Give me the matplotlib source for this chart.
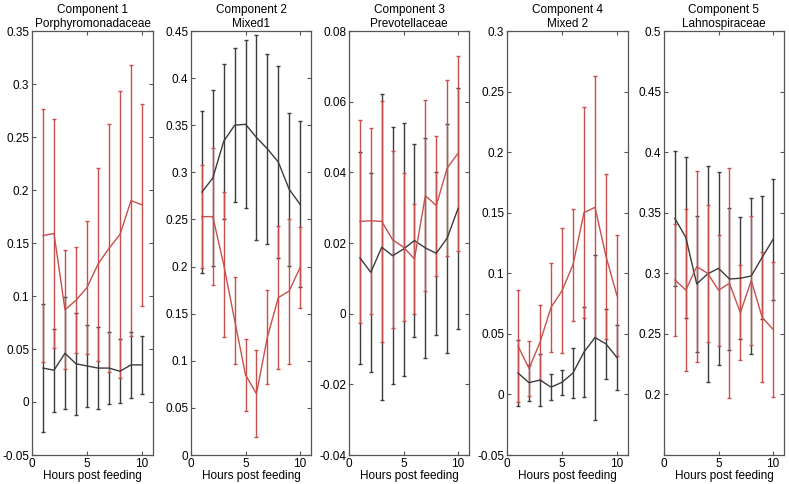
import matplotlib
matplotlib.use("Agg")
import matplotlib.pyplot as plt
import numpy as np

plt.rcParams["font.family"] = ["Liberation Sans", "DejaVu Sans"]

hours = [1, 2, 3, 4, 5, 6, 7, 8, 9, 10]

titles = [
    "Component 1\nPorphyromonadaceae",
    "Component 2\nMixed1",
    "Component 3\nPrevotellaceae",
    "Component 4\nMixed 2",
    "Component 5\nLahnospiraceae",
]

# black series (mean, symmetric error)
black_mean = [
    [0.032, 0.030, 0.046, 0.036, 0.034, 0.032, 0.032, 0.029, 0.035, 0.035],
    [0.279, 0.294, 0.333, 0.350, 0.351, 0.337, 0.325, 0.311, 0.282, 0.266],
    [0.0158, 0.0117, 0.0188, 0.0164, 0.0183, 0.0207, 0.0186, 0.0171, 0.0214, 0.0298],
    [0.0177, 0.0097, 0.0119, 0.006, 0.010, 0.0177, 0.035, 0.047, 0.0417, 0.0304],
    [0.3453, 0.3296, 0.2912, 0.2995, 0.3041, 0.2953, 0.2959, 0.2978, 0.3132, 0.328],
]
black_err = [
    [0.060, 0.039, 0.053, 0.048, 0.039, 0.039, 0.034, 0.030, 0.031, 0.027],
    [0.086, 0.093, 0.082, 0.082, 0.089, 0.109, 0.101, 0.102, 0.081, 0.088],
    [0.030, 0.0282, 0.0433, 0.0364, 0.0358, 0.0272, 0.0311, 0.0231, 0.0324, 0.0341],
    [0.027, 0.015, 0.0215, 0.011, 0.0105, 0.021, 0.037, 0.068, 0.029, 0.027],
    [0.056, 0.0665, 0.056, 0.089, 0.0795, 0.0585, 0.0505, 0.0643, 0.0506, 0.0497],
]

# red series (mean, symmetric error)
red_mean = [
    [0.157, 0.159, 0.087, 0.096, 0.108, 0.130, 0.145, 0.158, 0.190, 0.186],
    [0.253, 0.253, 0.202, 0.143, 0.085, 0.065, 0.125, 0.167, 0.174, 0.199],
    [0.0261, 0.0263, 0.0261, 0.0209, 0.0188, 0.0155, 0.0334, 0.0306, 0.0412, 0.0454],
    [0.040, 0.0215, 0.043, 0.0718, 0.0856, 0.107, 0.150, 0.1545, 0.114, 0.0815],
    [0.2945, 0.2862, 0.3055, 0.300, 0.286, 0.2917, 0.2675, 0.294, 0.2636, 0.2537],
]
red_err = [
    [0.119, 0.108, 0.056, 0.050, 0.063, 0.091, 0.117, 0.135, 0.128, 0.095],
    [0.055, 0.073, 0.077, 0.046, 0.038, 0.046, 0.050, 0.076, 0.077, 0.043],
    [0.0286, 0.0263, 0.034, 0.025, 0.021, 0.0155, 0.027, 0.0198, 0.025, 0.0276],
    [0.046, 0.023, 0.031, 0.037, 0.0515, 0.046, 0.087, 0.108, 0.068, 0.050],
    [0.046, 0.067, 0.079, 0.0565, 0.046, 0.095, 0.039, 0.0535, 0.0536, 0.0557],
]

ylims = [(-0.05, 0.35), (0.0, 0.45), (-0.04, 0.08), (-0.05, 0.30), (0.15, 0.50)]
yticks = [
    [-0.05, 0, 0.05, 0.1, 0.15, 0.2, 0.25, 0.3, 0.35],
    [0, 0.05, 0.1, 0.15, 0.2, 0.25, 0.3, 0.35, 0.4, 0.45],
    [-0.04, -0.02, 0, 0.02, 0.04, 0.06, 0.08],
    [-0.05, 0, 0.05, 0.1, 0.15, 0.2, 0.25, 0.3],
    [0.2, 0.25, 0.3, 0.35, 0.4, 0.45, 0.5],
]
ytick_labels = [
    ["-0.05", "0", "0.05", "0.1", "0.15", "0.2", "0.25", "0.3", "0.35"],
    ["0", "0.05", "0.1", "0.15", "0.2", "0.25", "0.3", "0.35", "0.4", "0.45"],
    ["-0.04", "-0.02", "0", "0.02", "0.04", "0.06", "0.08"],
    ["-0.05", "0", "0.05", "0.1", "0.15", "0.2", "0.25", "0.3"],
    ["0.2", "0.25", "0.3", "0.35", "0.4", "0.45", "0.5"],
]

BLACK = "#3c3c3c"
RED = "#c8504c"
W, H = 789, 484
# panel left/right edges in pixels
lefts = [32, 191, 349, 507, 664]
rights = [153, 311, 469, 628, 784]
top_px, bot_px = 31, 455

fig = plt.figure(figsize=(W / 100, H / 100), dpi=100)

for i in range(5):
    ax = fig.add_axes([lefts[i] / W, 1 - bot_px / H,
                       (rights[i] - lefts[i]) / W, (bot_px - top_px) / H])
    ax.errorbar(hours, black_mean[i], yerr=black_err[i], color=BLACK,
                lw=1.0, elinewidth=1.0, capsize=1.5, capthick=1.0)
    ax.errorbar(hours, red_mean[i], yerr=red_err[i], color=RED,
                lw=1.0, elinewidth=1.0, capsize=1.5, capthick=1.0)
    ax.set_xlim(0, 11)
    ax.set_ylim(*ylims[i])
    ax.set_xticks([0, 5, 10])
    ax.set_yticks(yticks[i])
    ax.set_yticklabels(ytick_labels[i])
    ax.tick_params(direction="in", top=True, right=True, length=3,
                   width=0.8, color="#555555", labelsize=8.5, pad=2)
    for s in ax.spines.values():
        s.set_color("#555555")
        s.set_linewidth(0.9)
    ax.set_title(titles[i], fontsize=8.5, linespacing=1.25, pad=3)
    ax.set_xlabel("Hours post feeding", fontsize=8.5, labelpad=0)

fig.savefig("out.png", dpi=100)
